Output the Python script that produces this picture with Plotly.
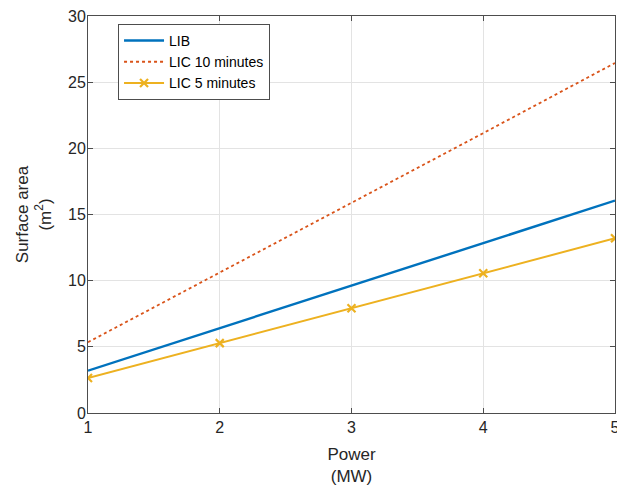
import plotly.graph_objects as go

power = [1, 2, 3, 4, 5]
lib = [3.2, 6.4, 9.6, 12.85, 16.05]
lic10 = [5.35, 10.6, 15.9, 21.15, 26.45]
lic5 = [2.64, 5.28, 7.92, 10.56, 13.2]

FONT = "Liberation Sans, Arial"

fig = go.Figure()
fig.add_trace(go.Scatter(x=power, y=lib, mode="lines", name="LIB",
                         line=dict(color="#0072BD", width=2.4)))
fig.add_trace(go.Scatter(x=power, y=lic10, mode="lines", name="LIC 10 minutes",
                         line=dict(color="#D95319", width=1.8, dash="dot")))
fig.add_trace(go.Scatter(x=power, y=lic5, mode="lines+markers", name="LIC 5 minutes",
                         line=dict(color="#EDB120", width=2),
                         marker=dict(symbol="x-thin", size=8,
                                     line=dict(color="#EDB120", width=2.2))))

axis_common = dict(
    showline=True, linecolor="#4d4d4d", linewidth=1, mirror="ticks",
    ticks="inside", ticklen=5, tickcolor="#4d4d4d",
    showgrid=True, gridcolor="#e3e3e3", gridwidth=1, zeroline=False,
    automargin=False, ticklabeloverflow="allow",
    tickfont=dict(family=FONT, size=16, color="#262626"),
)

fig.update_xaxes(range=[1, 5], tickvals=[1, 2, 3, 4, 5],
                 title=dict(text="Power<br>(MW)", standoff=12,
                            font=dict(family=FONT, size=17, color="#262626")),
                 **axis_common)
fig.update_yaxes(range=[0, 30], tickvals=[0, 5, 10, 15, 20, 25, 30],
                 ticklabelstandoff=-2,
                 title=dict(text="Surface area<br>(m<sup>2</sup>)", standoff=12,
                            font=dict(family=FONT, size=17, color="#262626")),
                 **axis_common)

fig.update_layout(
    width=617, height=490,
    margin=dict(l=88, r=2, t=16, b=77),
    plot_bgcolor="white", paper_bgcolor="white",
    showlegend=True,
    legend=dict(x=0.057, y=0.98, xanchor="left", yanchor="top",
                bgcolor="white", bordercolor="#4d4d4d", borderwidth=1,
                font=dict(family=FONT, size=14, color="#000000"),
                tracegroupgap=0, itemwidth=40),
)

fig.write_html("out.html", config={"displayModeBar": False},
               post_script="document.body.style.margin='0';document.body.style.overflow='hidden';")
